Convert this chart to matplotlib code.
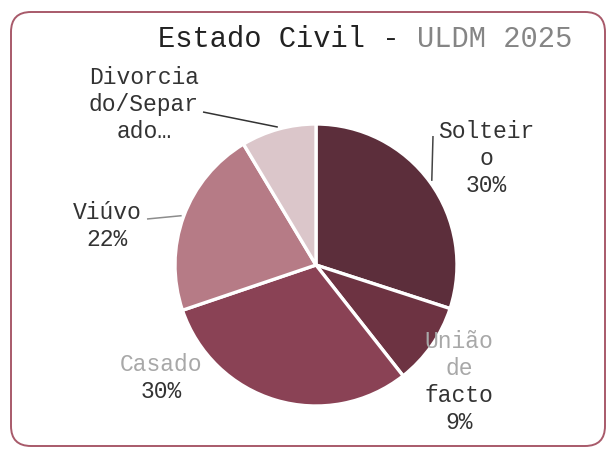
import matplotlib
matplotlib.use('Agg')
import matplotlib.pyplot as plt
import numpy as np
from matplotlib.patches import FancyBboxPatch

plt.rcParams['font.family'] = ['Liberation Mono', 'DejaVu Sans Mono']

####################################################################################
# dados
categorias = ['Solteiro', 'União de facto', 'Casado', 'Viúvo', 'Divorciado/Separado']
valores = [30.0, 9.4, 30.4, 21.6, 8.6]
mostra_pct = [True, True, True, True, False]
# texto dos rótulos como aparece (quebrado em linhas)
rotulo_linhas = [['Solteir', 'o'], ['União', 'de', 'facto'], ['Casado'], ['Viúvo'],
                 ['Divorcia', 'do/Separ', 'ado…']]
titulo_a = 'Estado Civil - '
titulo_b = 'ULDM 2025'

####################################################################################
# cores
cores = ['#5c2e3b', '#6d3342', '#8a4255', '#b67b86', '#dbc6ca']
cor_texto = '#333333'
cor_cinza = '#a8a8a8'
cor_borda = '#a85a6a'

####################################################################################
W, H = 606, 452
fig = plt.figure(figsize=(W / 100, H / 100), dpi=100)
ax = fig.add_axes([0, 0, 1, 1])

def Y(y):
    return H - y

cx, cy, R = 316, 266, 141

wedges, _ = ax.pie(valores, colors=cores, startangle=90, counterclock=False,
                   center=(cx, Y(cy)), radius=R,
                   wedgeprops=dict(edgecolor='white', linewidth=2.4))
ax.set_xlim(0, W)
ax.set_ylim(0, H)
ax.set_aspect('auto')
ax.axis('off')

# moldura arredondada
ax.add_patch(FancyBboxPatch((11, Y(447)), 594, 434,
                            boxstyle='round,pad=0,rounding_size=20',
                            facecolor='none', edgecolor=cor_borda, linewidth=1.4,
                            clip_on=False))

# título
fs_t = 20.7
cw = 0.6 * fs_t * 100 / 72
ax.text(158, Y(39), titulo_a, fontsize=fs_t, color='#222222', ha='left', va='center')
ax.text(158 + len(titulo_a) * cw, Y(39), titulo_b, fontsize=fs_t, color='#858585',
        ha='left', va='center')

# rótulos
fs = 16.6
pos = [(486, 132), (459, 342), (161, 365), (107, 213), (144, 78)]
passo = [26.5, 26.7, 27, 27, 27]
cores_rot = [
    [cor_texto, cor_texto, cor_texto],
    [cor_cinza, cor_cinza, cor_texto, cor_texto],
    [cor_cinza, cor_texto],
    [cor_texto, cor_texto],
    [cor_texto, cor_texto, cor_texto],
]
for i, v in enumerate(valores):
    linhas = list(rotulo_linhas[i])
    if mostra_pct[i]:
        linhas.append(f'{v:.0f}%')
    x0, y0 = pos[i]
    for j, s in enumerate(linhas):
        ax.text(x0, Y(y0 + j * passo[i]), s, fontsize=fs, color=cores_rot[i][j],
                ha='center', va='center')

# linhas de chamada
inicio = {0: (433, 137), 3: (147, 220), 4: (203, 113)}
cor_linha = {0: '#444444', 3: '#8c8c8c', 4: '#333333'}
for i, (x0, y0) in inicio.items():
    w = wedges[i]
    ang = np.deg2rad((w.theta1 + w.theta2) / 2)
    x1 = cx + 1.015 * R * np.cos(ang)
    y1 = Y(cy) + 1.015 * R * np.sin(ang)
    ax.plot([x0, x1], [Y(y0), y1], color=cor_linha[i], linewidth=1.1,
            solid_capstyle='butt')

plt.savefig('out.png', dpi=100)
